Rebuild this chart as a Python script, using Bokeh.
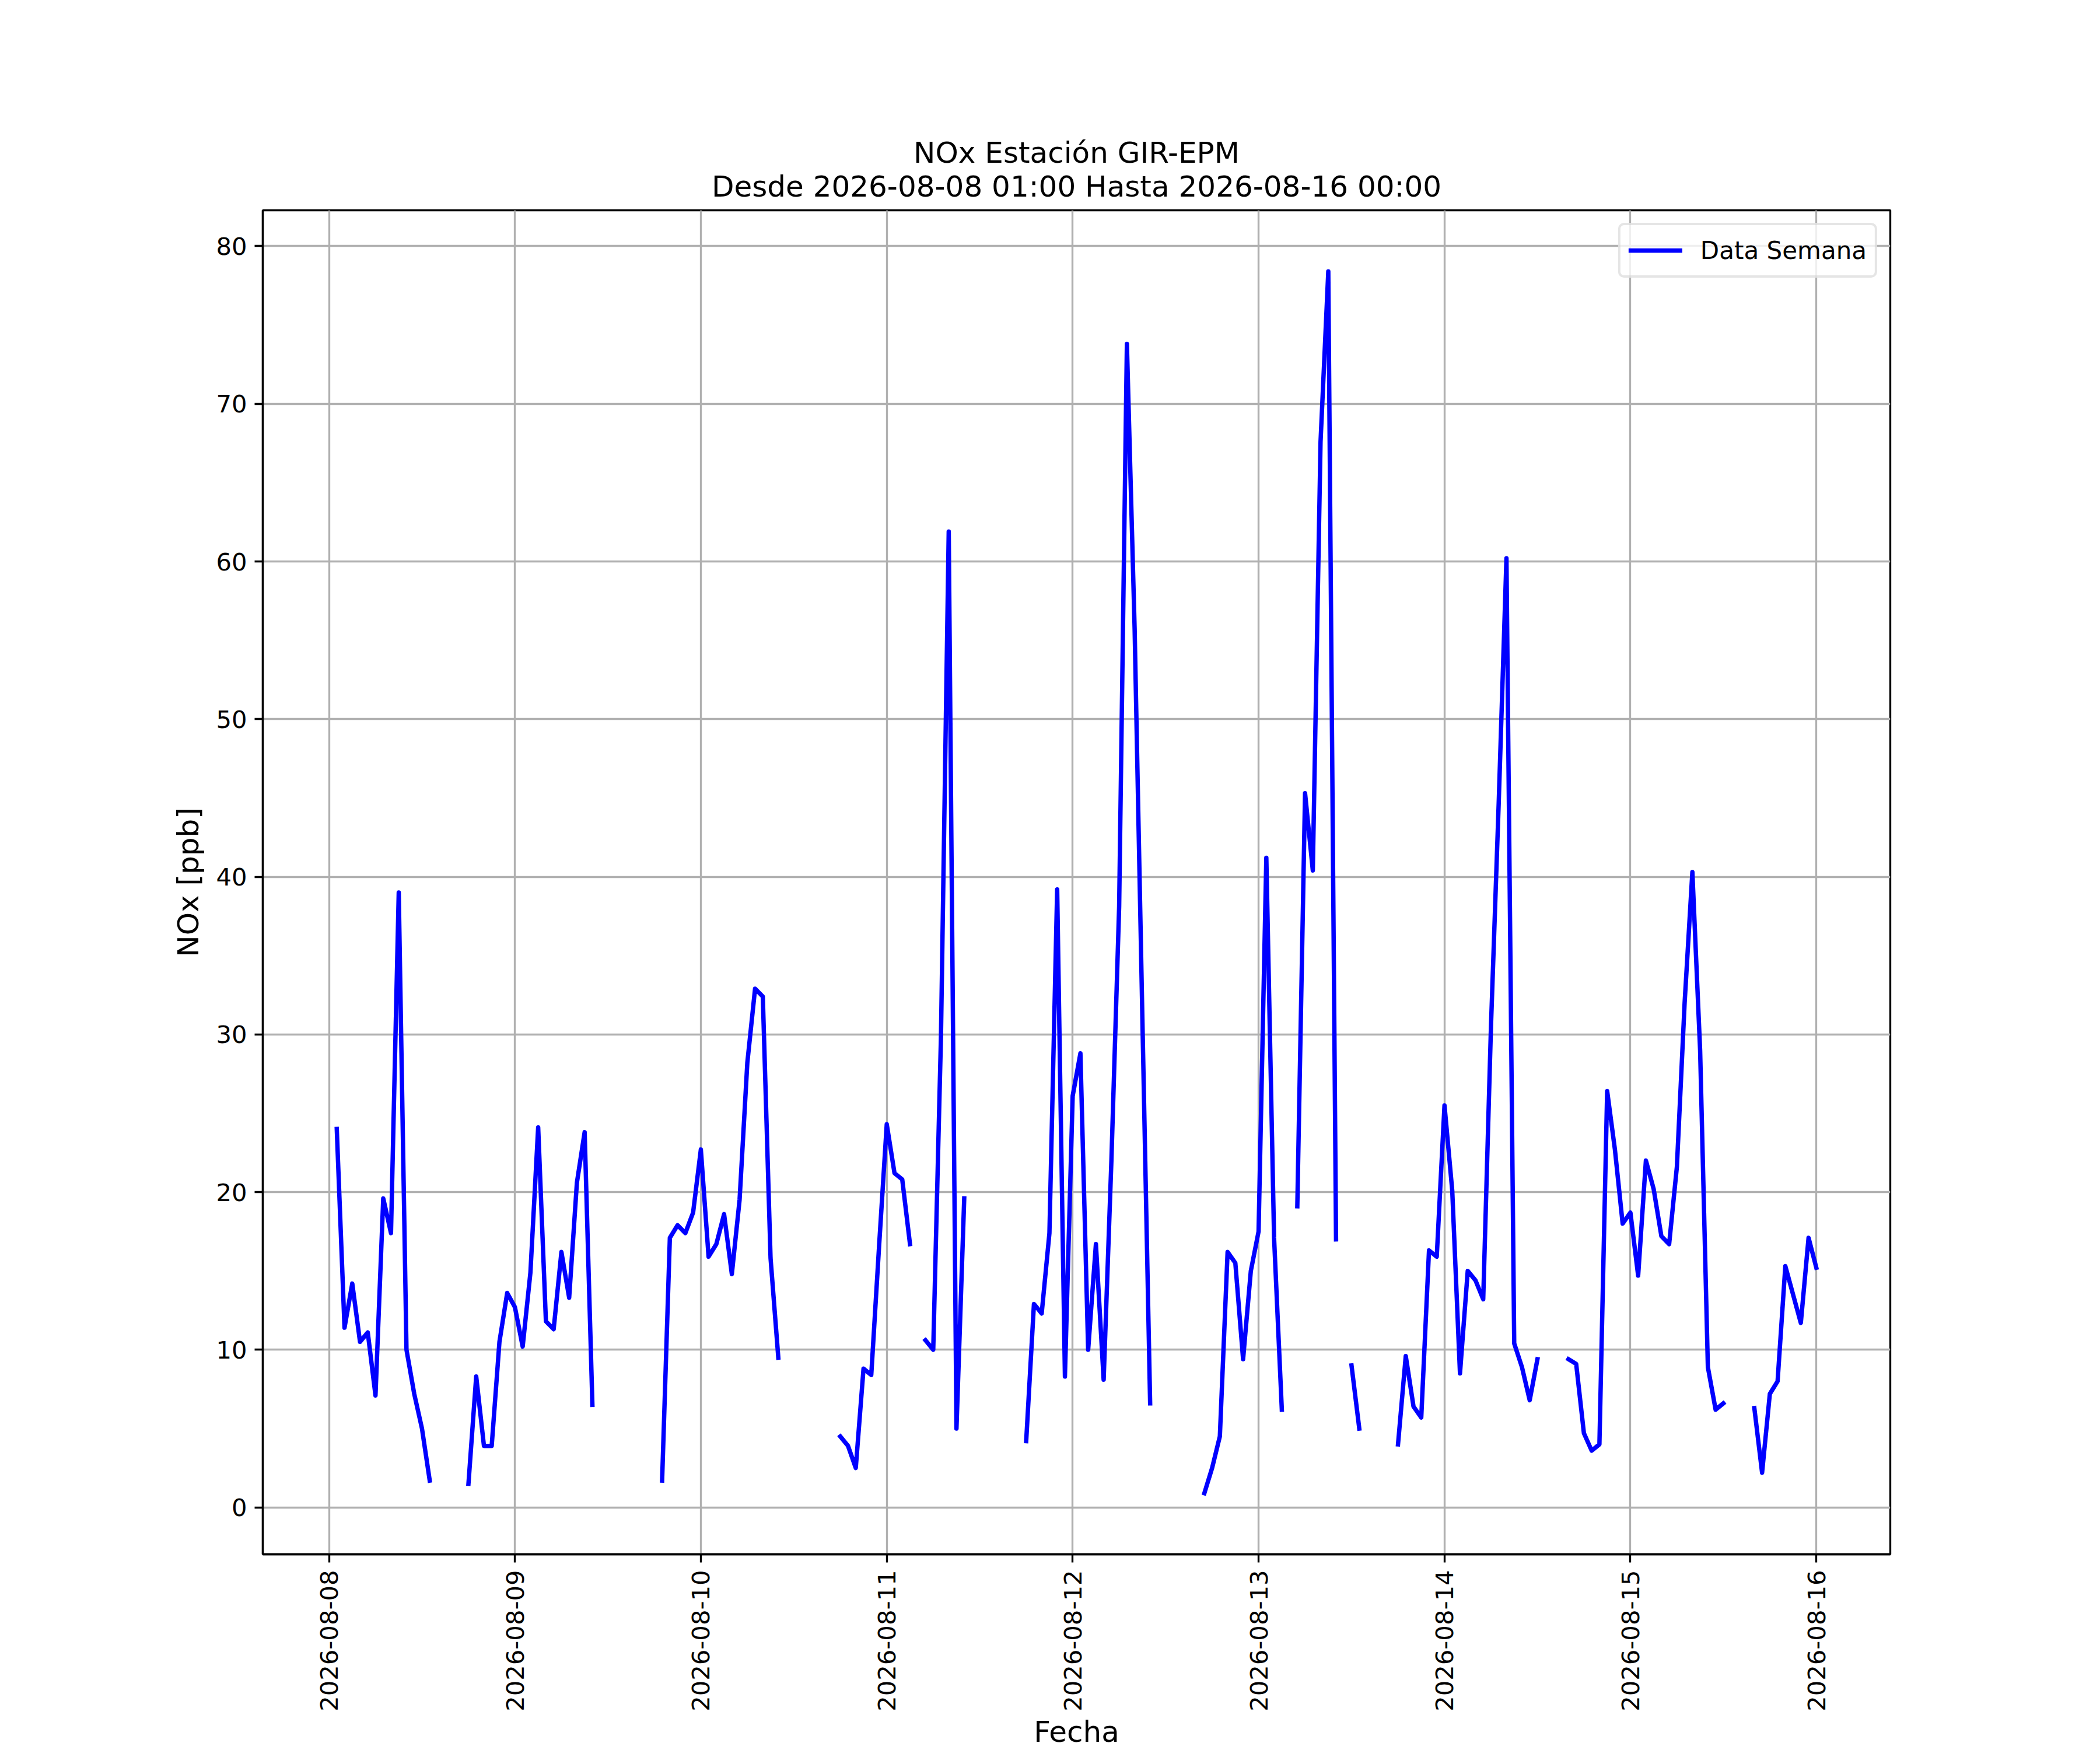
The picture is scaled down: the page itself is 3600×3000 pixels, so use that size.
import math
import numpy as np
import pandas as pd
from bokeh.plotting import figure
from bokeh.models import Range1d, FixedTicker, DatetimeTickFormatter, LinearAxis, ColumnDataSource
from bokeh.embed import file_html
from bokeh.resources import INLINE

# ---------------- data ----------------
start_time = "2026-08-08 01:00"
end_time = "2026-08-16 00:00"
N = None
nox_day1 = [24.0, 11.4, 14.2, 10.5, 11.1, 7.1, 19.6, 17.4, 39.0, 10.0, 7.2, 5.0,
            1.7, N, N, N, N, 1.5, 8.3, 3.9, 3.9, 10.5, 13.6, 12.7]            # 08-08 01h .. 08-09 00h
nox_day2 = [10.2, 14.9, 24.1, 11.8, 11.3, 16.2, 13.3, 20.6, 23.8, 6.5, N, N,
            N, N, N, N, N, N, 1.7, 17.1, 17.9, 17.4, 18.7, 22.7]               # .. 08-10 00h
nox_day3 = [15.9, 16.7, 18.6, 14.8, 19.5, 28.2, 32.9, 32.4, 15.8, 9.5, N, N,
            N, N, N, N, N, 4.5, 3.9, 2.5, 8.8, 8.4, 16.5, 24.3]                # .. 08-11 00h
nox_day4 = [21.2, 20.8, 16.7, N, 10.6, 10.0, 29.9, 61.9, 5.0, 19.6, N, N,
            N, N, N, N, N, 4.2, 12.9, 12.3, 17.4, 39.2, 8.3, 26.1]             # .. 08-12 00h
nox_day5 = [28.8, 10.0, 16.7, 8.1, 22.0, 38.1, 73.8, 55.7, 31.0, 6.6, N, N,
            N, N, N, N, 0.9, 2.5, 4.5, 16.2, 15.5, 9.4, 15.0, 17.5]            # .. 08-13 00h
nox_day6 = [41.2, 17.1, 6.2, N, 19.1, 45.3, 40.4, 67.6, 78.4, 17.0, N, 9.0,
            5.0, N, N, N, N, 4.0, 9.6, 6.4, 5.7, 16.3, 15.9, 25.5]             # .. 08-14 00h
nox_day7 = [20.1, 8.5, 15.0, 14.4, 13.2, 30.5, 44.7, 60.2, 10.4, 8.9, 6.8, 9.4,
            N, N, N, 9.4, 9.1, 4.7, 3.6, 4.0, 26.4, 22.7, 18.0, 18.7]          # .. 08-15 00h
nox_day8 = [14.7, 22.0, 20.2, 17.2, 16.7, 21.6, 32.0, 40.3, 29.0, 8.9, 6.2, 6.6,
            N, N, N, 6.3, 2.2, 7.2, 8.0, 15.3, 13.5, 11.7, 17.1, 15.2]          # .. 08-16 00h

tick_dates = ["2026-08-08", "2026-08-09", "2026-08-10", "2026-08-11", "2026-08-12",
              "2026-08-13", "2026-08-14", "2026-08-15", "2026-08-16"]
y_ticks = [0, 10, 20, 30, 40, 50, 60, 70, 80]

title_line1 = "NOx Estación GIR-EPM"
title_line2 = "Desde 2026-08-08 01:00 Hasta 2026-08-16 00:00"
x_label = "Fecha"
y_label = "NOx [ppb]"
series_label = "Data Semana"

# ---------------- build ----------------
values = nox_day1 + nox_day2 + nox_day3 + nox_day4 + nox_day5 + nox_day6 + nox_day7 + nox_day8
values = np.array([np.nan if v is None else v for v in values], dtype=float)
times = pd.date_range(start_time, end_time, freq="h")
src = ColumnDataSource(data=dict(t=times, v=values))

span = times[-1] - times[0]
x_start = (times[0] - 0.05 * span).to_pydatetime()
x_end = (times[-1] + 0.05 * span).to_pydatetime()
vmin, vmax = np.nanmin(values), np.nanmax(values)
vr = vmax - vmin

FONT = "DejaVu Sans"
PT = 300 / 72.0

W, H = 3600, 3000
L, T, FW, FH = 450, 360, 2790, 2310

p = figure(width=W, height=H,
           min_border_left=L, min_border_top=T,
           min_border_right=W - L - FW, min_border_bottom=H - T - FH,
           x_axis_type="datetime", title=None,
           x_range=Range1d(x_start, x_end),
           y_range=Range1d(vmin - 0.05 * vr, vmax + 0.05 * vr),
           output_backend="svg", toolbar_location=None,
           background_fill_color="white", border_fill_color="white")

p.line("t", "v", source=src, line_color="blue", line_width=7.5,
       line_join="round", line_cap="square", legend_label=series_label)

xb = p.below[0]
yl = p.left[0]


# two title lines, centred over the axes, carried by tick-less axes above the frame
def title_axis(text, standoff):
    ax = LinearAxis(ticker=FixedTicker(ticks=[]), axis_label=text)
    ax.axis_line_color = None
    ax.major_tick_line_color = None
    ax.minor_tick_line_color = None
    ax.major_tick_out = 0
    ax.major_tick_in = 0
    ax.minor_tick_out = 0
    ax.minor_tick_in = 0
    ax.major_label_text_font_size = "0px"
    ax.major_label_standoff = 0
    ax.axis_label_text_font = FONT
    ax.axis_label_text_font_size = "50px"
    ax.axis_label_text_font_style = "normal"
    ax.axis_label_text_color = "black"
    try:
        ax.axis_label_standoff = standoff
    except Exception:
        ax.axis_label_standoff = 0
    return ax


p.add_layout(title_axis(title_line2, 12), "above")
p.add_layout(title_axis(title_line1, -3), "above")

# outline (spines)
p.outline_line_color = "black"
p.outline_line_width = 0.8 * PT

# axes
tick_ms = [pd.Timestamp(d).value / 1e6 for d in tick_dates]
xb.ticker = FixedTicker(ticks=tick_ms)
fmt = "%Y-%m-%d"
xb.formatter = DatetimeTickFormatter(microseconds=fmt, milliseconds=fmt, seconds=fmt,
                                     minsec=fmt, minutes=fmt, hourmin=fmt, hours=fmt,
                                     days=fmt, months=fmt, years=fmt)
xb.major_label_orientation = math.pi / 2
yl.ticker = FixedTicker(ticks=y_ticks)

for ax in (xb, yl):
    ax.axis_line_color = "black"
    ax.axis_line_width = 0.8 * PT
    ax.major_tick_line_color = "black"
    ax.major_tick_line_width = 0.8 * PT
    ax.major_tick_out = 14
    ax.major_tick_in = 0
    ax.minor_tick_line_color = None
    ax.major_label_text_font = FONT
    ax.major_label_text_font_size = "41.7px"
    ax.major_label_text_color = "black"
    ax.major_label_standoff = 13
    ax.axis_label_text_font = FONT
    ax.axis_label_text_font_size = "50px"
    ax.axis_label_text_font_style = "normal"
    ax.axis_label_text_color = "black"

xb.axis_label = x_label
xb.axis_label_standoff = 3
yl.axis_label = y_label
yl.axis_label_standoff = 15

# grid
for g in (p.xgrid[0], p.ygrid[0]):
    g.grid_line_color = "#b0b0b0"
    g.grid_line_width = 0.8 * PT

# legend
lg = p.legend[0]
lg.location = "top_right"
lg.margin = 22
lg.padding = 14
lg.spacing = 0
lg.glyph_width = 92
lg.glyph_height = 58
lg.label_height = 58
lg.label_standoff = 31
lg.label_text_font = FONT
lg.label_text_font_size = "42px"
lg.label_text_color = "black"
lg.border_line_color = "#cccccc"
lg.border_line_width = 1.0 * PT
lg.background_fill_color = "white"
lg.background_fill_alpha = 0.8
try:
    lg.border_radius = 10
except Exception:
    pass

open("out.html", "w").write(file_html(p, INLINE))
